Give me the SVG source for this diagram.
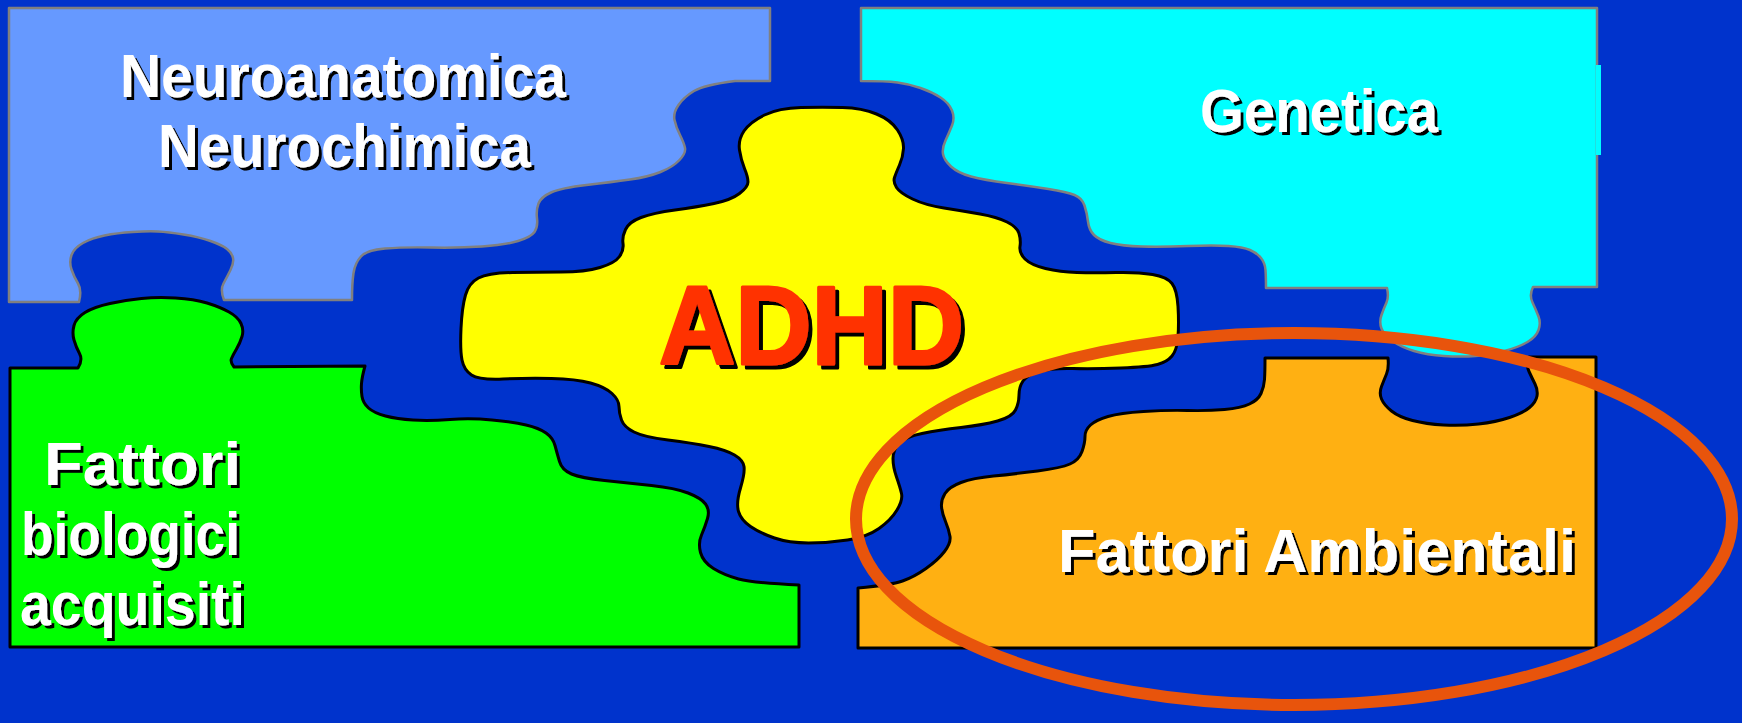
<svg xmlns="http://www.w3.org/2000/svg" width="1742" height="723" viewBox="0 0 1742 723">
<defs>
<style>
.piece-gray{stroke:#808080;stroke-width:2.5;stroke-linejoin:round}
.piece-black{stroke:#000000;stroke-width:3;stroke-linejoin:round}
.label{font-family:"Liberation Sans",Arial,sans-serif;font-weight:bold;font-size:61px;fill:#FFFFFF;filter:url(#shadow)}
.title{font-family:"Liberation Sans",Arial,sans-serif;font-weight:bold;font-size:112px;fill:#FF3300;stroke:#FF3300;stroke-width:3;stroke-linejoin:round;filter:url(#shadow4)}
</style>
<filter id="shadow" x="-10%" y="-20%" width="120%" height="150%">
<feDropShadow dx="3" dy="3" stdDeviation="0" flood-color="#000000" flood-opacity="1"/>
</filter>
<filter id="shadow4" x="-10%" y="-20%" width="120%" height="150%">
<feDropShadow dx="4" dy="4" stdDeviation="0" flood-color="#000000" flood-opacity="1"/>
</filter>
</defs>
<rect x="0" y="0" width="1742" height="723" fill="#0033CC"/>

<g id="node-neuro">
<path class="piece-gray" fill="#6699FF" d="M9,8 L770,8 L770,81 L735,81 Q704,85 694,91 Q684,97 678.5,105 Q673,113 674.5,120 Q676,127 680,135 Q684,143 685,148 Q686,153 679.5,160 Q673,167 660.5,172 Q648,177 630,179.5 Q612,182 586.5,185 Q561,188 551,192.5 Q541,197 538.5,203.5 Q536,210 537,218.5 Q538,227 534.5,232 Q531,237 518,241 Q505,245 482,246.5 Q459,248 431,247.5 Q403,247 385,248.5 Q367,250 361,256.5 Q355,263 353.5,273 Q352,283 352,300 L224,300 Q220,290 223.5,283.5 Q227,277 230.5,270 Q234,263 233,258 Q232,253 227,249 Q222,245 210.5,241 Q199,237 183.5,234.5 Q168,232 158,231.5 Q148,231 132.5,232 Q117,233 104.5,235.5 Q92,238 83,243 Q74,248 71.5,255 Q69,262 71.5,269.5 Q74,277 78,283.5 Q82,290 79,302 L9,302 Z"/>
<text class="label" x="120" y="97" textLength="446" lengthAdjust="spacingAndGlyphs">Neuroanatomica</text>
<text class="label" x="158" y="167" textLength="373" lengthAdjust="spacingAndGlyphs">Neurochimica</text>
</g>

<g id="node-genetica">
<path class="piece-gray" fill="#00FFFF" d="M861,8 L1597,8 L1597,287 L1533,287 Q1529,295 1532.5,302.5 Q1536,310 1538.5,316.5 Q1541,323 1538.5,330 Q1536,337 1527.5,342 Q1519,347 1504.5,351 Q1490,355 1475.5,356 Q1461,357 1444,356 Q1427,355 1414,351 Q1401,347 1392.5,341 Q1384,335 1381.5,328.5 Q1379,322 1381.5,315 Q1384,308 1386.5,302.5 Q1389,297 1387,288 L1266,288 Q1266,277 1265.5,270 Q1265,263 1261,258 Q1257,253 1250,250 Q1243,247 1228.5,246 Q1214,245 1188,246 Q1162,247 1142,246.5 Q1122,246 1110.5,243 Q1099,240 1094,235 Q1089,230 1088,221.5 Q1087,213 1084.5,205.5 Q1082,198 1074.5,195 Q1067,192 1048.5,189 Q1030,186 1007,183 Q984,180 971,176.5 Q958,173 951,166.5 Q944,160 943,154 Q942,148 945.5,140.5 Q949,133 952,125.5 Q955,118 952,110.5 Q949,103 940.5,97.5 Q932,92 920.5,88 Q909,84 897.5,82.5 Q886,81 861,81 Z"/>
<rect x="1596" y="65" width="5" height="90" fill="#00FFFF"/>
<text class="label" x="1200" y="132" textLength="238" lengthAdjust="spacingAndGlyphs">Genetica</text>
</g>

<g id="node-biologici">
<path class="piece-black" fill="#00FF00" d="M10,368 L78,368 Q83,360 79.5,353.5 Q76,347 74,340 Q72,333 74,325.5 Q76,318 85,312.5 Q94,307 110,303.5 Q126,300 141.5,298.5 Q157,297 175.5,298 Q194,299 207,303 Q220,307 229,312 Q238,317 241,323.5 Q244,330 242,336.5 Q240,343 236.5,349 Q233,355 231.5,358.5 Q230,362 234,367 L365,366 Q362,377 361.5,383.5 Q361,390 362,396.5 Q363,403 368.5,408 Q374,413 385.5,416 Q397,419 413,420 Q429,421 450,419.5 Q471,418 492,420 Q513,422 526,425 Q539,428 546,433 Q553,438 555,445.5 Q557,453 559.5,461.5 Q562,470 571.5,474 Q581,478 604.5,480.5 Q628,483 651.5,485.5 Q675,488 688,493 Q701,498 705.5,504 Q710,510 707.5,518.5 Q705,527 701.5,535 Q698,543 700.5,552.5 Q703,562 713.5,568.5 Q724,575 738.5,579 Q753,583 799,585 L799,647 L10,647 Z"/>
<text class="label" x="44" y="485" textLength="197" lengthAdjust="spacingAndGlyphs">Fattori</text>
<text class="label" x="21" y="555" textLength="219" lengthAdjust="spacingAndGlyphs">biologici</text>
<text class="label" x="20" y="625" textLength="225" lengthAdjust="spacingAndGlyphs">acquisiti</text>
</g>

<g id="node-ambientali">
<path class="piece-black" fill="#FFB012" d="M858,648 L1596,648 L1596,357 L1529,357 Q1526,365 1529,371.5 Q1532,378 1535,384 Q1538,390 1537,396 Q1536,402 1529.5,407.5 Q1523,413 1509.5,417.5 Q1496,422 1478.5,424 Q1461,426 1443.5,425 Q1426,424 1412.5,420.5 Q1399,417 1391.5,411 Q1384,405 1381.5,399 Q1379,393 1381.5,386.5 Q1384,380 1386.5,374 Q1389,368 1388,358 L1265,358 Q1265,372 1264.5,379.5 Q1264,387 1261,393.5 Q1258,400 1249.5,404 Q1241,408 1224.5,409.5 Q1208,411 1187.5,410.5 Q1167,410 1143.5,411.5 Q1120,413 1108,416.5 Q1096,420 1090.5,425 Q1085,430 1085,436.5 Q1085,443 1082,451.5 Q1079,460 1070,464 Q1061,468 1037.5,471 Q1014,474 993.5,476 Q973,478 961,482.5 Q949,487 945,493.5 Q941,500 941.5,506.5 Q942,513 945.5,521.5 Q949,530 950,536.5 Q951,543 944.5,551.5 Q938,560 926,568.5 Q914,577 902.5,581 Q891,585 858,588 Z"/>
<text class="label" x="1058" y="572" textLength="518" lengthAdjust="spacingAndGlyphs">Fattori Ambientali</text>
</g>

<g id="node-adhd">
<path class="piece-black" fill="#FFFF00" d="M764.5,115 Q779,108 801,107.5 Q823,107 842.5,107.5 Q862,108 876.5,114 Q891,120 897.5,130 Q904,140 903.5,148.5 Q903,157 899.5,165 Q896,173 894.5,177.5 Q893,182 896.5,187.5 Q900,193 912.5,199 Q925,205 944,208 Q963,211 980,214 Q997,217 1007,222 Q1017,227 1019,233.5 Q1021,240 1020,246.5 Q1019,253 1025,259 Q1031,265 1045.5,268.5 Q1060,272 1077,272.5 Q1094,273 1116,272.5 Q1138,272 1152.5,274.5 Q1167,277 1172,283.5 Q1177,290 1178,306.5 Q1179,323 1178,336.5 Q1177,350 1172,356 Q1167,362 1157.5,364.5 Q1148,367 1121,368 Q1094,369 1072.5,368.5 Q1051,368 1039,371.5 Q1027,375 1023,381 Q1019,387 1019,395 Q1019,403 1015.5,410 Q1012,417 997.5,421 Q983,425 961,427.5 Q939,430 922,433.5 Q905,437 899,443.5 Q893,450 893,458.5 Q893,467 896.5,477 Q900,487 901.5,493.5 Q903,500 897,510 Q891,520 879,528.5 Q867,537 847.5,540 Q828,543 808.5,543 Q789,543 774.5,538 Q760,533 750.5,526.5 Q741,520 738.5,511.5 Q736,503 740.5,488 Q745,473 744,466.5 Q743,460 734.5,455 Q726,450 709,446.5 Q692,443 668,440 Q644,437 634,432 Q624,427 621.5,420 Q619,413 619,406.5 Q619,400 612,393.5 Q605,387 590.5,383 Q576,379 551.5,378.5 Q527,378 503,379 Q479,380 471.5,375 Q464,370 462,360 Q460,350 461,328.5 Q462,307 465.5,295 Q469,283 478.5,278 Q488,273 512.5,272.5 Q537,272 561,272 Q585,272 600,267.5 Q615,263 619.5,256.5 Q624,250 623,243.5 Q622,237 625.5,229.5 Q629,222 641,217.5 Q653,213 675,210 Q697,207 714,203.5 Q731,200 739.5,193.5 Q748,187 748,182 Q748,177 744.5,168.5 Q741,160 739.5,150 Q738,140 744,131 Q750,122 764.5,115 Z"/>
<text class="title" x="659" y="364" textLength="305" lengthAdjust="spacingAndGlyphs">ADHD</text>
</g>

<g id="highlight">
<ellipse cx="1294" cy="519" rx="438" ry="186" fill="none" stroke="#E8540C" stroke-width="12"/>
</g>
</svg>
